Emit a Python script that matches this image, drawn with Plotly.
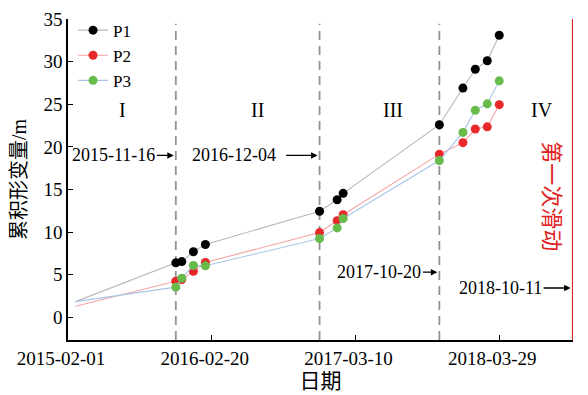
import plotly.graph_objects as go

# ---- data ----
dates = ["2015-02-21", "2015-11-16", "2015-12-02", "2016-01-02", "2016-02-03",
         "2016-12-04", "2017-01-20", "2017-02-05",
         "2017-10-20", "2017-12-22", "2018-01-24", "2018-02-25", "2018-03-29"]
p1 = [1.85, 6.4, 6.55, 7.7, 8.55, 12.45, 13.8, 14.55, 22.6, 26.9, 29.1, 30.1, 33.1]
p2 = [1.3, 4.25, 4.45, 5.4, 6.45, 9.95, 11.35, 12.05, 19.15, 20.5, 22.1, 22.35, 24.95]
p3 = [1.85, 3.55, 4.6, 6.1, 6.05, 9.25, 10.5, 11.6, 18.4, 21.7, 24.3, 25.05, 27.75]
series_names = ["P1", "P2", "P3"]

phase_dates = ["2015-11-16", "2016-12-04", "2017-10-20"]
slide_date = "2018-10-11"
phase_labels = ["I", "II", "III", "IV"]
phase_label_dates = ["2015-06-26", "2016-06-20", "2017-06-19", "2018-07-22"]
phase_label_y = 24.3
arrow_labels = ["2015-11-16", "2016-12-04", "2017-10-20", "2018-10-11"]
arrow_y = [19.0, 19.0, 5.3, 3.45]
slide_text = "第一次滑动"

x_range = ["2015-02-01", "2018-10-12"]
y_range = [-2.65, 35]
x_ticks = ["2015-02-01", "2016-02-20", "2017-03-10", "2018-03-29"]
y_ticks = [0, 5, 10, 15, 20, 25, 30, 35]

FONT = "Liberation Serif, Times New Roman, Noto Sans CJK SC, serif"

line_colors = ["#b8b8b8", "#f4a3a3", "#a9c6e8"]
marker_colors = ["#000000", "#e8282b", "#66bb4a"]

fig = go.Figure()
for name, vals, lc, mc in zip(series_names, [p1, p2, p3], line_colors, marker_colors):
    # lead-in segment from the first (unmarked) reading
    fig.add_trace(go.Scatter(
        x=dates[:2], y=vals[:2], mode="lines", showlegend=False, hoverinfo="skip",
        line=dict(color=lc, width=1.1),
    ))
    fig.add_trace(go.Scatter(
        x=dates[1:], y=vals[1:], name=name, mode="lines+markers",
        line=dict(color=lc, width=1.1),
        marker=dict(color=mc, size=9, opacity=1, line=dict(width=0)),
    ))

shapes = []
for d in phase_dates:
    shapes.append(dict(type="line", xref="x", yref="paper", x0=d, x1=d, y0=0, y1=0.985,
                       layer="below",
                       line=dict(color="#939393", width=1.8, dash="9px,6px")))
shapes.append(dict(type="line", xref="x", yref="paper", x0=slide_date, x1=slide_date, y0=0, y1=1,
                   line=dict(color="#e02020", width=1.4)))

annotations = []
for lab, d in zip(phase_labels, phase_label_dates):
    annotations.append(dict(x=d, y=phase_label_y, xref="x", yref="y", text=lab, showarrow=False,
                            font=dict(family=FONT, size=20, color="black")))

arrow_targets = phase_dates + [slide_date]
arrow_ax = [-62, -86, -60, -72]
arrow_sso = [0, 9, 0, 0]
for lab, d, yy, ax, sso in zip(arrow_labels, arrow_targets, arrow_y, arrow_ax, arrow_sso):
    annotations.append(dict(x=d, y=yy, xref="x", yref="y", text=lab, showarrow=True,
                            ax=ax, ay=0, axref="pixel", ayref="pixel",
                            arrowhead=2, arrowsize=1.0, arrowwidth=1.3, arrowcolor="black",
                            standoff=2, startstandoff=sso,
                            font=dict(family=FONT, size=18, color="black")))

annotations.append(dict(x="2018-08-17", y=14.2, xref="x", yref="y", text=slide_text, showarrow=False,
                        textangle=90, font=dict(family=FONT, size=22, color="#e02020")))

# page body has an 8px default margin: size the figure so the plot lands on the 588x395 window
fig.update_layout(
    width=580, height=387,
    margin=dict(l=60, r=15, t=5, b=55),
    paper_bgcolor="white", plot_bgcolor="white",
    font=dict(family=FONT, size=19, color="black"),
    showlegend=True,
    legend=dict(x=0.01, y=1.02, xanchor="left", yanchor="top", bgcolor="rgba(0,0,0,0)",
                font=dict(family=FONT, size=17), itemwidth=30),
    shapes=shapes, annotations=annotations,
)
fig.update_xaxes(type="date", range=x_range, tickvals=x_ticks, ticktext=x_ticks, automargin=False,
                 showgrid=False, zeroline=False, showline=True, linecolor="black", linewidth=1.5,
                 ticks="inside", ticklen=5, tickcolor="black", tickwidth=1.2,
                 ticklabelshift=-7,
                 tickfont=dict(family=FONT, size=19),
                 title=dict(text="日期", font=dict(family=FONT, size=21), standoff=4))
fig.update_yaxes(range=y_range, tickvals=y_ticks, showgrid=False, zeroline=False, automargin=False,
                 showline=True, linecolor="black", linewidth=1.5,
                 ticks="inside", ticklen=5, tickcolor="black", tickwidth=1.2,
                 tickfont=dict(family=FONT, size=19),
                 title=dict(text="累积形变量/m", font=dict(family=FONT, size=20), standoff=12))

fig.write_html("out.html")
